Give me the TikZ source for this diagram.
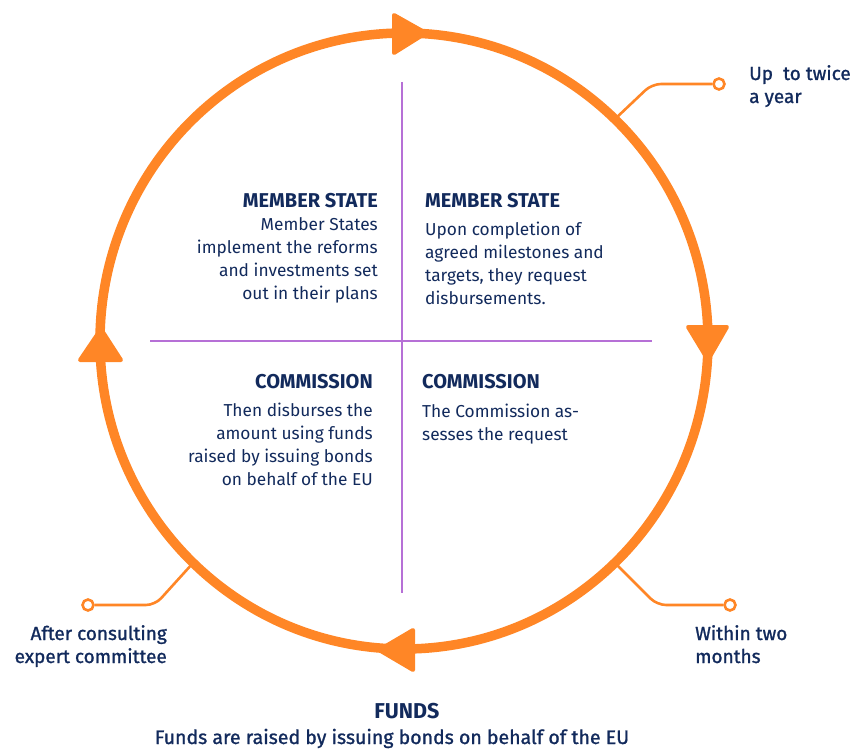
\documentclass[tikz,border=0pt]{standalone}
\usepackage{fontspec}
\setmainfont{Fira Sans}
\newfontfamily\semifont[FakeBold=1.2]{Fira Sans}
\definecolor{ringorange}{RGB}{255,134,38}
\definecolor{splitpurple}{RGB}{182,112,214}
\definecolor{navy}{RGB}{18,42,92}
\begin{document}
\begin{tikzpicture}[x=1pt,y=-1pt,
  ring/.style={draw=ringorange,line width=9.5pt},
  tiphead/.style={fill=ringorange,draw=ringorange,line width=4pt,line join=round},
  leader/.style={draw=ringorange,line width=2.6pt,rounded corners=9pt},
  dot/.style={circle,draw=ringorange,fill=white,line width=2.6pt,minimum size=11pt,inner sep=0pt},
  divider/.style={draw=splitpurple,line width=2.5pt},
  heading/.style={font=\bfseries\fontsize{20}{24}\selectfont,text=navy,inner sep=0pt},
  body/.style={font=\fontsize{17.3}{23}\selectfont,text=navy,inner sep=0pt},
  note/.style={font=\semifont\fontsize{19}{23}\selectfont,text=navy,inner sep=0pt}
]
\useasboundingbox (0,0) rectangle (855,749);

% dividing cross
\coordinate (hl) at (150,341);
\coordinate (hr) at (652,341);
\coordinate (vt) at (402,82);
\coordinate (vb) at (402,593);
\draw[divider] (hl) -- (hr);
\draw[divider] (vt) -- (vb);

% leader lines with end markers
\coordinate (c1) at (615,119);
\coordinate (c2) at (615,563);
\coordinate (c3) at (193,563);
\node[dot] (d1) at (719,84) {};
\node[dot] (d2) at (730,605) {};
\node[dot] (d3) at (88,605) {};
\draw[leader] (c1) -- (652,84) -- (d1.west);
\draw[leader] (c2) -- (657,605) -- (d2.west);
\draw[leader] (c3) -- (155,605) -- (d3.east);

% cycle ring
\coordinate (o) at (404,341);
\draw[ring] (o) ellipse [x radius=304pt, y radius=308pt];

% direction heads (clockwise)
\draw[tiphead] (426,33) -- (394,15) -- (394,53) -- cycle;
\draw[tiphead] (708,360) -- (688,327) -- (727,327) -- cycle;
\draw[tiphead] (379,650) -- (413,630) -- (413,670) -- cycle;
\draw[tiphead] (101,329) -- (80,360) -- (121,360) -- cycle;

% quadrant texts (multi-line nodes are placed by their last baseline)
\node[heading,anchor=base east] (t1) at (378,207.5) {MEMBER STATE};
\node[body,anchor=base east,align=right] (b1) at (378,299)
  {Member States\\implement the reforms\\and investments set\\out in their plans};
\node[heading,anchor=base west] (t2) at (425,207.5) {MEMBER STATE};
\node[body,anchor=base west,align=left] (b2) at (425,304)
  {Upon completion of\\agreed milestones and\\targets, they request\\disbursements.};
\node[heading,anchor=base east] (t3) at (373,388) {COMMISSION};
\node[body,anchor=base east,align=right] (b3) at (373,485)
  {Then disburses the\\amount using funds\\raised by issuing bonds\\on behalf of the EU};
\node[heading,anchor=base west] (t4) at (422,388) {COMMISSION};
\node[body,anchor=base west,align=left] (b4) at (422,440)
  {The Commission as-\\sesses the request};

% timing notes
\node[note,anchor=base west,align=left] (n1) at (749,103) {Up\ \ to twice\\a year};
\node[note,anchor=base west,align=left] (n2) at (695,663) {Within two\\months};
\node[note,anchor=base east,align=right] (n3) at (167,663) {After consulting\\expert committee};

% funds caption
\node[heading,anchor=base,font=\bfseries\fontsize{21.5}{24}\selectfont] (f1) at (407,718) {FUNDS};
\node[note,anchor=base,font=\semifont\fontsize{19.5}{23}\selectfont] (f2) at (392,744) {Funds are raised by issuing bonds on behalf of the EU};
\end{tikzpicture}
\end{document}
